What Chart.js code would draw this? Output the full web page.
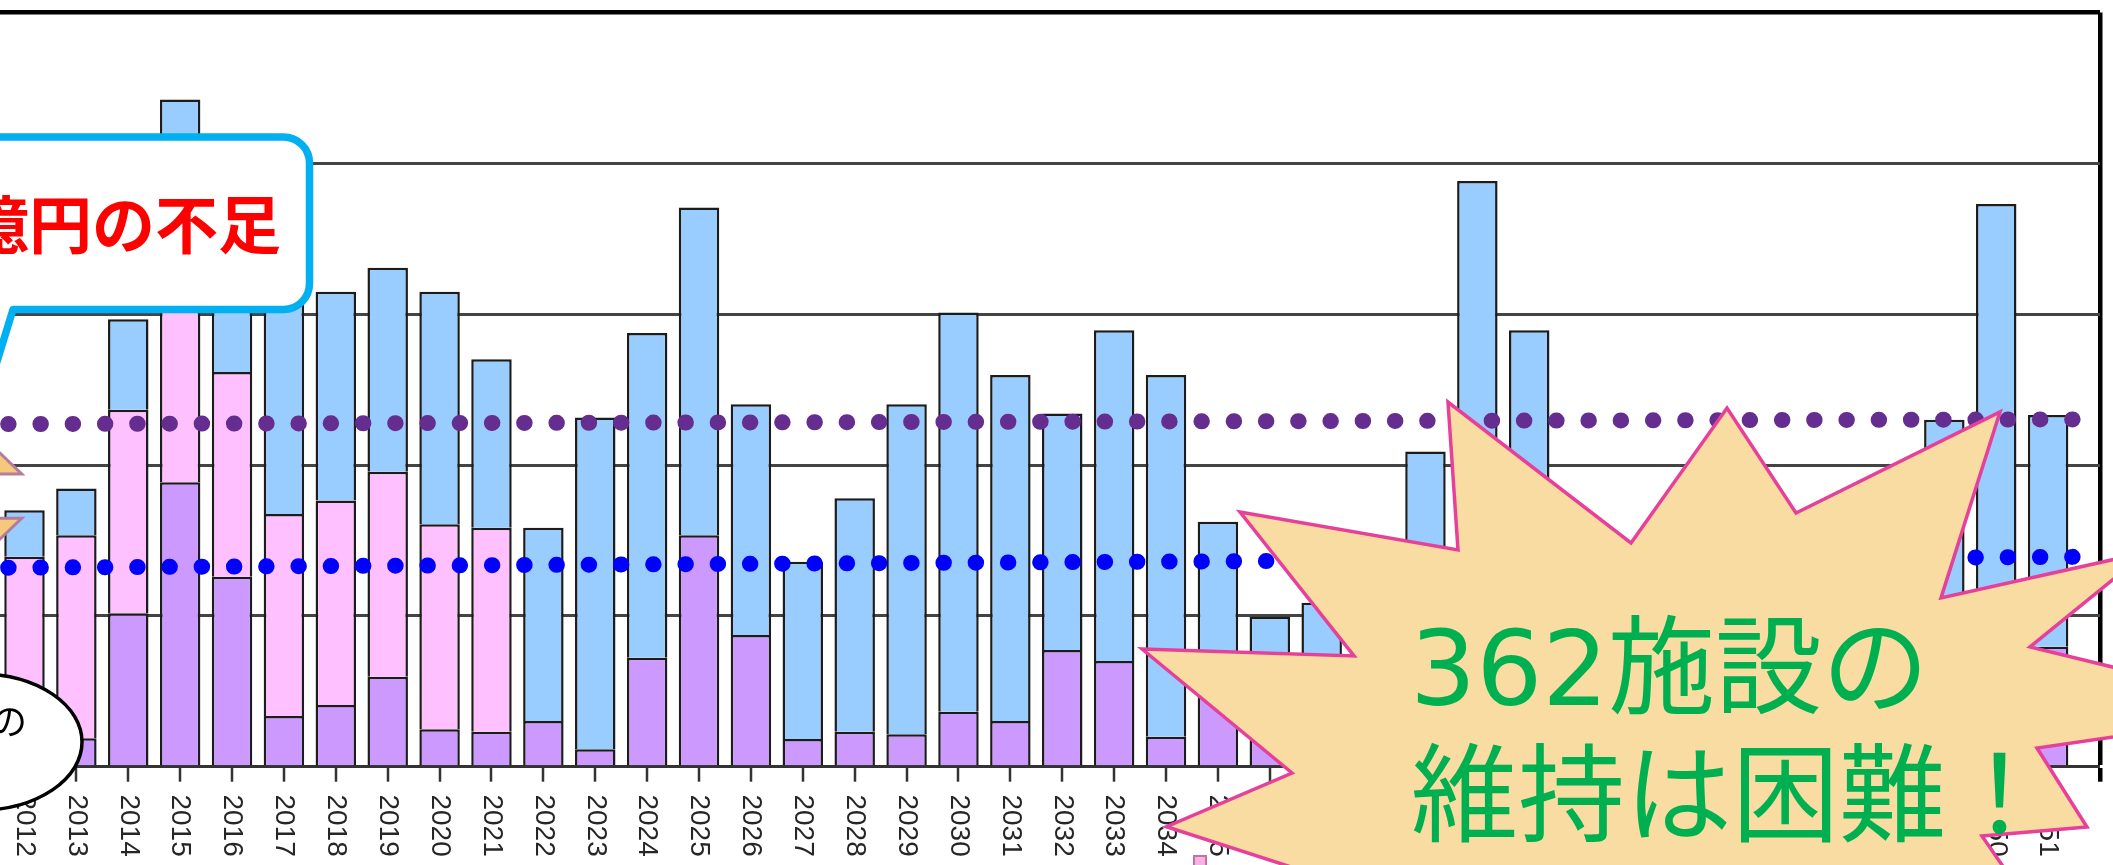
<!DOCTYPE html>
<html lang="ja">
<head>
<meta charset="utf-8">
<title>公共施設の更新費用</title>
<script src="https://cdn.jsdelivr.net/npm/chart.js@4.4.1/dist/chart.umd.min.js"></script>
<style>
  html, body { margin: 0; padding: 0; background: #fff; overflow: hidden; width: 2113px; height: 865px; }
  #wrap { position: relative; width: 2113px; height: 865px; overflow: hidden; }
  #chart { position: absolute; left: -150px; top: 0; }
</style>
</head>
<body>
<div id="wrap"><canvas id="chart" width="2263" height="865"></canvas></div>
<script>
// 年度（最後の空欄は右端の枠線位置）
const years = [
  '2011', '2012', '2013', '2014', '2015', '2016', '2017', '2018', '2019', '2020',
  '2021', '2022', '2023', '2024', '2025', '2026', '2027', '2028', '2029', '2030',
  '2031', '2032', '2033', '2034', '2035', '2036', '2037', '2038', '2039', '2040',
  '2041', '2042', '2043', '2044', '2045', '2046', '2047', '2048', '2049', '2050',
  '2051', ''
];

// 費用区分ごとの金額（億円）
const repairCost = [
  1.0, 0.45, 1.88, 10.17, 18.85, 12.59, 3.36, 4.09, 5.96, 2.48,
  2.32, 3.03, 1.15, 7.22, 15.35, 8.73, 1.84, 2.32, 2.15, 3.64,
  3.03, 7.73, 7.00, 1.99, 6.0, 3.0, 2.5, 2.0, 3.0, 3.5,
  3.0, 2.0, 1.5, 3.0, 4.0, 2.0, 2.5, 3.0, 3.0, 4.0,
  7.95, null
];
const constructionCost = [
  13.5, 13.47, 13.47, 13.49, 13.5, 13.57, 13.40, 13.56, 13.59, 13.60,
  13.52, null, null, null, null, null, null, null, null, null,
  null, null, null, null, null, null, null, null, null, null,
  null, null, null, null, null, null, null, null, null, null,
  null, null
];
const renewalCost = [
  3.0, 3.08, 3.10, 6.01, 11.88, 8.84, 14.24, 13.83, 13.52, 15.40,
  11.18, 12.81, 22.00, 21.54, 21.72, 15.30, 11.75, 15.47, 21.88, 26.47,
  22.93, 15.69, 21.94, 23.97, 10.24, 6.94, 8.37, 9.0, 17.9, 35.33,
  25.94, 11.0, 9.5, 11.0, 12.0, 10.0, 10.5, 12.0, 20.0, 33.3,
  15.36, null
];

// 水準線（始点と終点の金額）
const upperLevel = years.map(() => null);
upperLevel[0] = 22.71;
upperLevel[years.length - 1] = 23.03;
const lowerLevel = years.map(() => null);
lowerLevel[0] = 13.18;
lowerLevel[years.length - 1] = 13.92;

// 縦軸の範囲
const yMin = 0;
const yMax = 50;
const yStep = 10;

const SHIFT = 150; // canvas is moved left by this amount

function drawShortfallBox(ctx) {
  const r = 26, R = 309.5, T = 137, B = 309.5, L = -400;
  ctx.beginPath();
  ctx.moveTo(13, B);
  ctx.lineTo(R - r, B);
  ctx.arcTo(R, B, R, B - r, r);
  ctx.lineTo(R, T + r);
  ctx.arcTo(R, T, R - r, T, r);
  ctx.lineTo(L, T);
  ctx.lineTo(L, B);
  ctx.lineTo(-70, B);
  ctx.lineTo(-25, 433);
  ctx.closePath();
  ctx.fillStyle = '#ffffff';
  ctx.fill();
  ctx.lineWidth = 7.5;
  ctx.lineJoin = 'round';
  ctx.strokeStyle = '#00B0F0';
  ctx.stroke();

  ctx.fillStyle = '#FF0000';
  ctx.font = 'bold 63px "Noto Sans CJK JP"';
  ctx.textAlign = 'right';
  ctx.textBaseline = 'alphabetic';
  ctx.fillText('億円の不足', 281, 248);
}

function drawArrowHeads(ctx) {
  ctx.lineWidth = 3;
  ctx.lineJoin = 'miter';
  ctx.fillStyle = '#F5C97B';
  ctx.strokeStyle = '#B57C9E';
  ctx.beginPath();
  ctx.moveTo(-24, 430);
  ctx.lineTo(21.7, 474);
  ctx.lineTo(-70, 474);
  ctx.closePath();
  ctx.fill();
  ctx.stroke();
  ctx.beginPath();
  ctx.moveTo(-70, 518.3);
  ctx.lineTo(21.7, 518.3);
  ctx.lineTo(-24, 562);
  ctx.closePath();
  ctx.fill();
  ctx.stroke();
}

function drawOval(ctx) {
  ctx.beginPath();
  ctx.ellipse(-20, 742, 102, 68, 0, 0, Math.PI * 2);
  ctx.fillStyle = '#ffffff';
  ctx.fill();
  ctx.lineWidth = 3.5;
  ctx.strokeStyle = '#000000';
  ctx.stroke();
  ctx.fillStyle = '#000000';
  ctx.font = '36px "Noto Sans CJK JP"';
  ctx.textAlign = 'right';
  ctx.textBaseline = 'alphabetic';
  ctx.fillText('の', 27, 735);
}

function drawChip(ctx) {
  ctx.fillStyle = '#F7B3E3';
  ctx.strokeStyle = '#C46FA6';
  ctx.lineWidth = 2;
  ctx.fillRect(1194, 856, 12, 12);
  ctx.strokeRect(1194, 856, 12, 12);
}

function drawBurst(ctx) {
  const pts = [
    [1142, 649], [1354, 656], [1240, 512], [1458, 550], [1448, 402],
    [1631, 543], [1727, 408], [1796, 513], [2000, 412], [1941, 598],
    [2147, 552], [2030, 647], [2294, 711], [2037, 748], [2087, 827],
    [1982, 836], [2040, 920], [1455, 920], [1166.5, 826.7], [1292, 773]
  ];
  ctx.beginPath();
  pts.forEach((p, i) => (i ? ctx.lineTo(p[0], p[1]) : ctx.moveTo(p[0], p[1])));
  ctx.closePath();
  ctx.fillStyle = '#F9DCA2';
  ctx.fill();
  ctx.lineWidth = 3.5;
  ctx.lineJoin = 'miter';
  ctx.miterLimit = 20;
  ctx.strokeStyle = '#E6409A';
  ctx.stroke();

  ctx.fillStyle = '#00B050';
  ctx.textAlign = 'left';
  ctx.textBaseline = 'alphabetic';
  ctx.font = '104px "DejaVu Sans"';
  ctx.fillText('362', 1410, 705);
  ctx.font = '107px "Noto Sans CJK JP"';
  ctx.fillText('施設の', 1608, 705);
  ctx.fillText('維持は困難！', 1411, 832.5);
}

const calloutPlugin = {
  id: 'callouts',
  afterDraw(chart) {
    const ctx = chart.ctx;
    ctx.save();
    ctx.translate(SHIFT, 0);
    drawShortfallBox(ctx);
    drawArrowHeads(ctx);
    drawOval(ctx);
    drawChip(ctx);
    drawBurst(ctx);
    ctx.restore();
  }
};

const last = years.length - 1;

const levelStyle = {
  type: 'line', order: -1,
  borderWidth: 16, borderDash: [0.5, 31.75], borderDashOffset: -3.3,
  borderCapStyle: 'round', pointRadius: 0, spanGaps: true, tension: 0, fill: false, clip: false
};
const barStyle = {
  stack: 'cost', borderColor: '#1c1c1c', borderWidth: 2.5,
  categoryPercentage: 1, barPercentage: 0.78
};

new Chart(document.getElementById('chart'), {
  type: 'bar',
  data: {
    labels: years,
    datasets: [
      Object.assign({}, levelStyle, { label: '上限水準', data: upperLevel, stack: 'upper', borderColor: '#662D91' }),
      Object.assign({}, levelStyle, { label: '下限水準', data: lowerLevel, stack: 'lower', borderColor: '#0000FF' }),
      Object.assign({}, barStyle, { label: '修繕', data: repairCost, backgroundColor: '#CC99FF' }),
      Object.assign({}, barStyle, { label: '建設', data: constructionCost, backgroundColor: '#FFC0FF' }),
      Object.assign({}, barStyle, { label: '更新', data: renewalCost, backgroundColor: '#99CCFF' })
    ]
  },
  options: {
    responsive: false,
    animation: false,
    events: [],
    layout: { padding: { left: SHIFT - 27.4, right: 13, top: 12.5, bottom: 0 } },
    plugins: {
      legend: { display: false },
      tooltip: { enabled: false },
      title: { display: false }
    },
    scales: {
      x: {
        stacked: true,
        offset: false,
        grid: {
          display: true,
          offset: false,
          drawOnChartArea: true,
          color: c => (c.index === last ? '#000000' : 'rgba(0,0,0,0)'),
          lineWidth: c => (c.index === last ? 4.5 : 0),
          tickColor: c => (c.index === last ? '#000000' : '#333333'),
          tickWidth: c => (c.index === last ? 4.5 : 2.5),
          tickLength: 15
        },
        border: { display: true, color: '#333333', width: 3 },
        ticks: {
          autoSkip: false,
          minRotation: -90,
          maxRotation: -90,
          padding: 75,
          color: '#262626',
          font: { family: 'Liberation Sans', size: 28 }
        },
        afterFit(scale) {
          scale.height = 98.3;
          scale.paddingLeft = 0;
          scale.paddingRight = 0;
        }
      },
      y: {
        stacked: true,
        min: yMin,
        max: yMax,
        ticks: { display: false, stepSize: yStep },
        grid: {
          drawTicks: false,
          color: c => (c.tick.value === yMax ? '#000000' : '#444444'),
          lineWidth: c => (c.tick.value === yMax ? 4.5 : 3)
        },
        border: { display: false }
      }
    }
  },
  plugins: [calloutPlugin]
});
</script>
</body>
</html>
